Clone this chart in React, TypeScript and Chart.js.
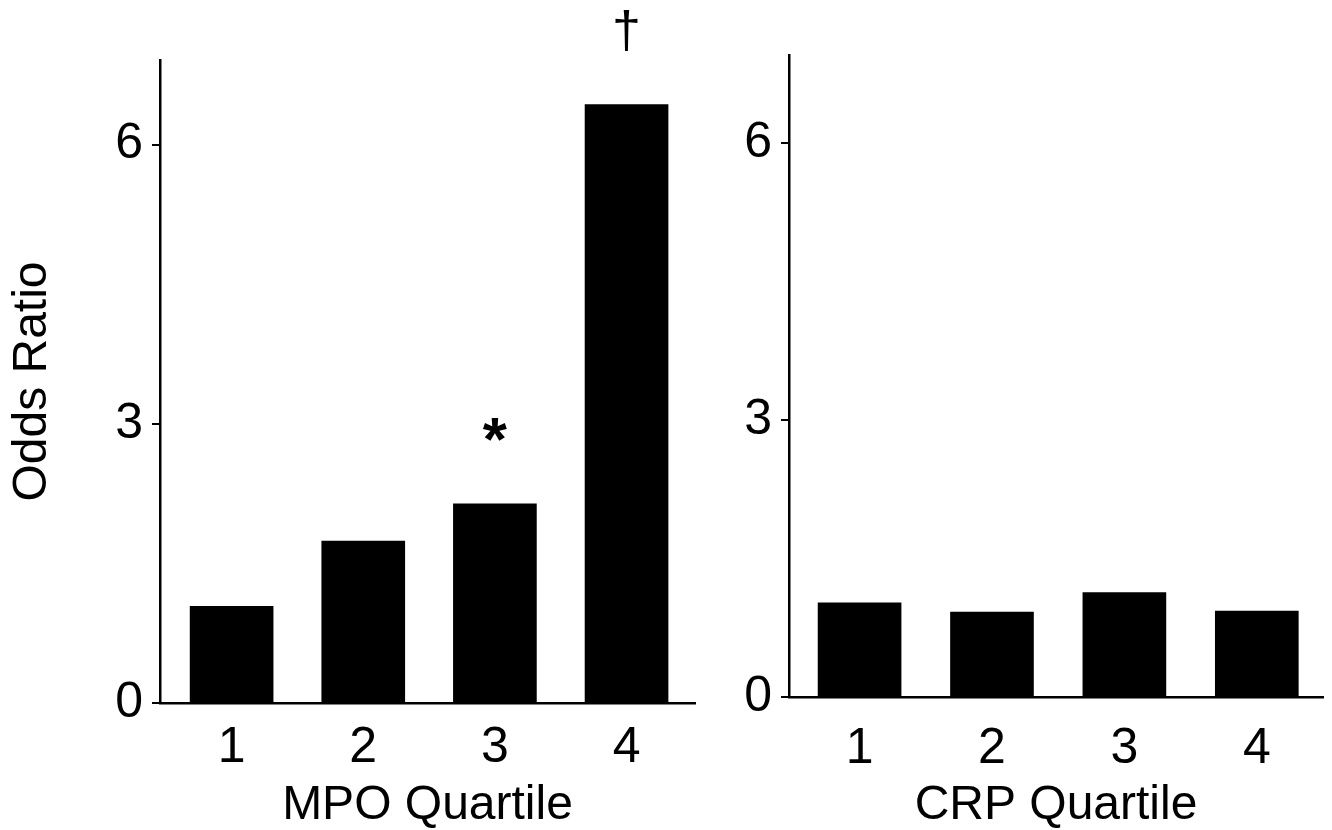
import React, { useEffect, useRef } from "react";
import { Chart, registerables } from "chart.js";

Chart.register(...registerables);

// ---- data ----
const quartiles = [1, 2, 3, 4];
const mpoOdds = [1.04, 1.74, 2.14, 6.43];
const crpOdds = [1.02, 0.92, 1.13, 0.93];
const mpoMarks = ["", "", "*", "†"];
const crpMarks = ["", "", "", ""];
const yTicks = [0, 3, 6];
const yTitle = "Odds Ratio";
const mpoTitle = "MPO Quartile";
const crpTitle = "CRP Quartile";

const FONT = "'Liberation Sans', Arial, Helvetica, sans-serif";

type PanelCfg = {
  values: number[];
  marks: string[];
  xTitle: string;
  showYTitle: boolean;
  yMax: number;
  xMin: number;
  xMax: number;
  yAxisWidth: number;
  xAxisHeight: number;
  padTop: number;
  padRight: number;
  xTickPad: number;
};

const markPlugin = {
  id: "sigMarks",
  afterDatasetsDraw(chart: any, _args: any, opts: any) {
    const marks: string[] = opts.marks || [];
    const meta = chart.getDatasetMeta(0);
    const ctx = chart.ctx;
    ctx.save();
    ctx.fillStyle = "#000";
    ctx.textAlign = "center";
    ctx.textBaseline = "alphabetic";
    meta.data.forEach((bar: any, i: number) => {
      const m = marks[i];
      if (!m) return;
      ctx.font = m === "*" ? `bold 62px ${FONT}` : `52px ${FONT}`;
      const tm = ctx.measureText(m);
      const cy = bar.y - 74;
      const base = cy + (tm.actualBoundingBoxAscent - tm.actualBoundingBoxDescent) / 2;
      ctx.fillText(m, bar.x, base);
    });
    ctx.restore();
  },
};

function Panel({ cfg, left, width }: { cfg: PanelCfg; left: number; width: number }) {
  const ref = useRef<HTMLCanvasElement | null>(null);
  useEffect(() => {
    if (!ref.current) return;
    const chart = new Chart(ref.current, {
      type: "bar",
      data: {
        datasets: [
          {
            data: quartiles.map((q, i) => ({ x: q, y: cfg.values[i] })),
            backgroundColor: "#000",
            borderWidth: 0,
            barThickness: 83,
          },
        ],
      },
      plugins: [markPlugin],
      options: {
        animation: false,
        responsive: false,
        maintainAspectRatio: false,
        layout: { padding: { top: cfg.padTop, right: cfg.padRight, left: 0, bottom: 0 } },
        plugins: {
          legend: { display: false },
          tooltip: { enabled: false },
          sigMarks: { marks: cfg.marks },
        } as any,
        scales: {
          x: {
            type: "linear",
            offset: false,
            min: cfg.xMin,
            max: cfg.xMax,
            afterBuildTicks: (s: any) => {
              s.ticks = quartiles.map((v) => ({ value: v }));
            },
            afterFit: (s: any) => {
              s.height = cfg.xAxisHeight;
            },
            grid: { display: false, drawTicks: false, offset: false },
            border: { display: true, color: "#000", width: 2.5 },
            ticks: {
              color: "#000",
              padding: cfg.xTickPad,
              font: { family: FONT, size: 50 },
              callback: (v: any) => String(v),
            },
            title: {
              display: true,
              text: cfg.xTitle,
              color: "#000",
              font: { family: FONT, size: 48, lineHeight: 1 },
              padding: { top: 0, bottom: 0 },
            },
          },
          y: {
            type: "linear",
            min: 0,
            max: cfg.yMax,
            afterBuildTicks: (s: any) => {
              s.ticks = yTicks.map((v) => ({ value: v }));
            },
            afterFit: (s: any) => {
              s.width = cfg.yAxisWidth;
            },
            grid: {
              display: true,
              drawOnChartArea: false,
              drawTicks: true,
              tickLength: 8,
              color: "#000",
              lineWidth: 2,
            },
            border: { display: true, color: "#000", width: 2.5 },
            ticks: {
              color: "#000",
              padding: 9,
              font: { family: FONT, size: 50 },
              callback: (v: any) => String(v),
            },
            title: {
              display: cfg.showYTitle,
              text: yTitle,
              color: "#000",
              font: { family: FONT, size: 48, lineHeight: 1.2 },
              padding: { top: 4, bottom: 0 },
            },
          },
        },
      } as any,
    });
    return () => chart.destroy();
  }, []);
  return (
    <canvas
      ref={ref}
      width={width}
      height={830}
      style={{ position: "absolute", left, top: 0, width, height: 830 }}
    />
  );
}

export default function App() {
  const leftCfg: PanelCfg = {
    values: mpoOdds,
    marks: mpoMarks,
    xTitle: mpoTitle,
    showYTitle: true,
    yMax: 6.91,
    xMin: 0.456,
    xMax: 4.52,
    yAxisWidth: 160,
    xAxisHeight: 127,
    padTop: 60,
    padRight: 25,
    xTickPad: 15,
  };
  const rightCfg: PanelCfg = {
    values: crpOdds,
    marks: crpMarks,
    xTitle: crpTitle,
    showYTitle: false,
    yMax: 6.95,
    xMin: 0.467,
    xMax: 4.5,
    yAxisWidth: 69,
    xAxisHeight: 133,
    padTop: 55,
    padRight: 9,
    xTickPad: 22,
  };
  return (
    <div
      style={{
        position: "fixed",
        left: 0,
        top: 0,
        width: 1332,
        height: 830,
        background: "#fff",
        overflow: "hidden",
      }}
    >
      <Panel cfg={leftCfg} left={0} width={720} />
      <Panel cfg={rightCfg} left={720} width={612} />
    </div>
  );
}
